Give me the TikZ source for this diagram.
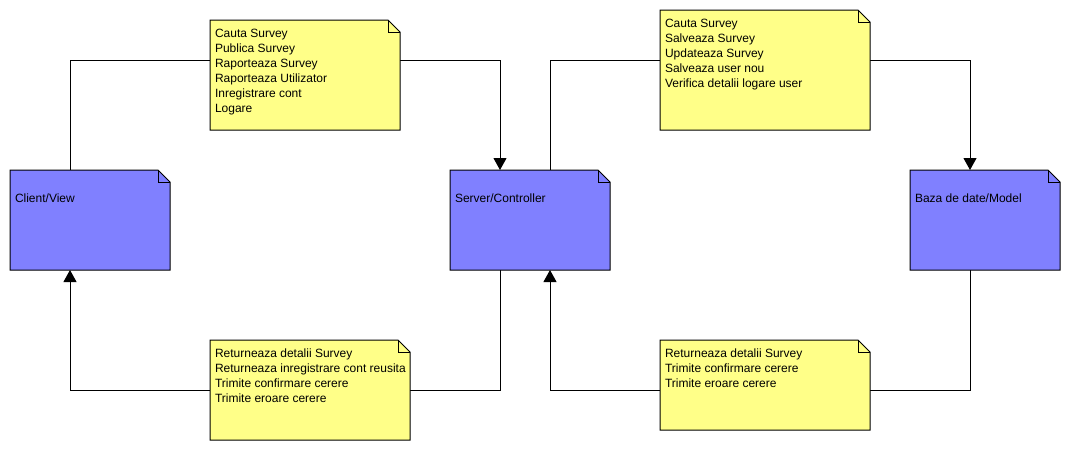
\documentclass[tikz,border=0pt]{standalone}
\usepackage{fontspec}
\setmainfont{Liberation Sans}
\usetikzlibrary{arrows.meta,calc}
\definecolor{boxblue}{RGB}{128,128,255}
\definecolor{noteyellow}{RGB}{255,255,136}
\newcommand\foldedshape[2]{%
  \filldraw[fill=#2,draw=black,line width=1pt,line join=miter]
    (#1.north west) -- ([xshift=-12pt]#1.north east) -- ([yshift=-12pt]#1.north east)
    -- (#1.south east) -- (#1.south west) -- cycle;
  \draw[line width=1pt] ([xshift=-12pt]#1.north east) |- ([yshift=-12pt]#1.north east);
}
\begin{document}
\begin{tikzpicture}[x=1pt,y=-1pt,
  shell/.style={draw=none,fill=none,inner sep=0pt,outer sep=0pt,anchor=north west},
  txt/.style={inner sep=0pt,outer sep=0pt,font=\fontsize{12}{15}\selectfont,align=left,anchor=north west},
  lbl/.style={inner sep=0pt,outer sep=0pt,font=\fontsize{12}{15}\selectfont,anchor=west},
  conn/.style={draw=black,line width=1pt},
  arr/.style={conn,-{Triangle[width=13pt,length=12pt]}},
]
\useasboundingbox (0,0) rectangle (1070,450);

% shells
\node[shell,minimum width=160pt,minimum height=100pt] (client) at (10,170) {};
\node[shell,minimum width=160pt,minimum height=100pt] (server) at (450,170) {};
\node[shell,minimum width=150pt,minimum height=100pt] (db) at (910,170) {};
\node[shell,minimum width=190pt,minimum height=110pt] (note1) at (210,20) {};
\node[shell,minimum width=210pt,minimum height=120pt] (note2) at (660,10) {};
\node[shell,minimum width=200pt,minimum height=100pt] (note3) at (210,340) {};
\node[shell,minimum width=210pt,minimum height=90pt] (note4) at (660,340) {};

% connectors
\draw[conn] ($(client.north west)+(60,0)$) |- ($(note1.north west)+(0,40)$);
\draw[arr] ($(note1.north east)+(0,40)$) -| ($(server.north west)+(50,0)$);
\draw[conn] ($(server.north west)+(100,0)$) |- ($(note2.north west)+(0,50)$);
\draw[arr] ($(note2.north east)+(0,50)$) -| ($(db.north west)+(60,0)$);
\draw[conn] ($(db.south west)+(60,0)$) |- ($(note4.north east)+(0,50)$);
\draw[arr] ($(note4.north west)+(0,50)$) -| ($(server.south west)+(100,0)$);
\draw[conn] ($(server.south west)+(50,0)$) |- ($(note3.north east)+(0,50)$);
\draw[arr] ($(note3.north west)+(0,50)$) -| ($(client.south west)+(60,0)$);

% shapes
\foldedshape{client}{boxblue}
\foldedshape{server}{boxblue}
\foldedshape{db}{boxblue}
\foldedshape{note1}{noteyellow}
\foldedshape{note2}{noteyellow}
\foldedshape{note3}{noteyellow}
\foldedshape{note4}{noteyellow}

% texts
\node[lbl] (clientt) at ($(client.north west)+(5,28)$) {Client/View};
\node[lbl] (servert) at ($(server.north west)+(5,28)$) {Server/Controller};
\node[lbl] (dbt) at ($(db.north west)+(5,28)$) {Baza de date/Model};
\node[txt] (note1t) at ($(note1.north west)+(5,9)$) {Cauta Survey\\Publica Survey\\Raporteaza Survey\\Raporteaza Utilizator\\Inregistrare cont\\Logare};
\node[txt] (note2t) at ($(note2.north west)+(5,9)$) {Cauta Survey\\Salveaza Survey\\Updateaza Survey\\Salveaza user nou\\Verifica detalii logare user};
\node[txt] (note3t) at ($(note3.north west)+(5,9)$) {Returneaza detalii Survey\\Returneaza inregistrare cont reusita\\Trimite confirmare cerere\\Trimite eroare cerere};
\node[txt] (note4t) at ($(note4.north west)+(5,9)$) {Returneaza detalii Survey\\Trimite confirmare cerere\\Trimite eroare cerere};
\end{tikzpicture}
\end{document}
